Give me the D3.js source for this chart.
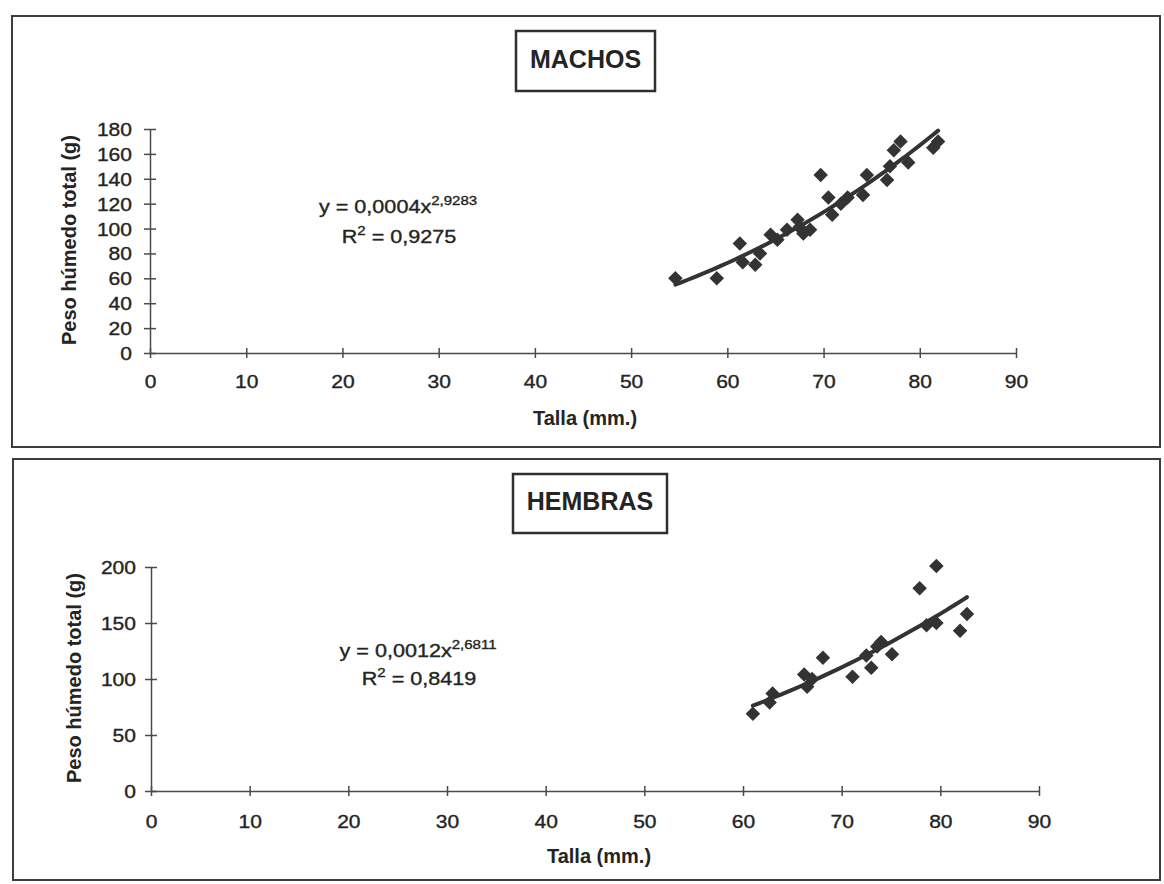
<!DOCTYPE html>
<html><head><meta charset="utf-8">
<script src="https://cdn.jsdelivr.net/npm/d3@7"></script>
<style>
body{margin:0;background:#fff}
text{font-family:"Liberation Sans",Arial,sans-serif;fill:#242424}
.reg{stroke:#242424;stroke-width:0.35px}
</style>
</head><body>
<svg id="c" width="1164" height="884"></svg>
<script>
// ---------------- data ----------------
const xTicks = [0, 10, 20, 30, 40, 50, 60, 70, 80, 90];
const machosYTicks = [0, 20, 40, 60, 80, 100, 120, 140, 160, 180];
const hembrasYTicks = [0, 50, 100, 150, 200];

const machosTalla = [54.6, 58.9, 61.3, 61.6, 62.9, 63.4, 64.5, 65.2, 66.2, 67.3, 67.5, 67.9, 68.6, 69.7, 70.5, 70.9, 71.8, 72.5, 74.1, 74.5, 76.6, 76.9, 77.3, 78.0, 78.8, 81.4, 81.9];
const machosPeso  = [60, 60, 88, 73, 71, 80, 95, 91, 99, 107, 101, 96, 99, 143, 125, 111, 120, 125, 127, 143, 139, 150, 163, 170, 153, 165, 170];

const hembrasTalla = [61.0, 62.7, 63.0, 66.2, 66.5, 67.0, 68.1, 71.1, 72.5, 73.0, 73.6, 74.0, 75.1, 77.9, 78.6, 79.6, 79.6, 82.0, 82.7];
const hembrasPeso  = [69, 79, 87, 104, 93, 100, 119, 102, 121, 110, 129, 133, 122, 181, 148, 150, 201, 143, 158];

const titles = ["MACHOS", "HEMBRAS"];
const eqCoef = ["y = 0,0004x", "y = 0,0012x"];
const eqExp = ["2,9283", "2,6811"];
const r2Val = [" = 0,9275", " = 0,8419"];
const yLabel = "Peso húmedo total (g)";
const xLabel = "Talla (mm.)";

// ---------------- helpers ----------------
const svg = d3.select("#c");
const INK = "#333";

function stext(g, x, y, sx, str, size, weight, anchor) {
  return g.append("text")
    .attr("transform", `translate(${x},${y}) scale(${sx},1)`)
    .attr("text-anchor", anchor || "middle")
    .attr("font-size", size)
    .attr("font-weight", weight || "normal")
    .text(str);
}

function powerFit(xs, ys) {
  const n = xs.length;
  const lx = xs.map(Math.log), ly = ys.map(Math.log);
  const sx = d3.sum(lx), sy = d3.sum(ly);
  const sxy = d3.sum(lx.map((v, i) => v * ly[i]));
  const sxx = d3.sum(lx.map(v => v * v));
  const b = (n * sxy - sx * sy) / (n * sxx - sx * sx);
  const a = (sy - b * sx) / n;
  return x => Math.exp(a) * Math.pow(x, b);
}

function panel(cfg) {
  const g = svg.append("g");
  // frame
  g.append("rect").attr("x", cfg.frame[0]).attr("y", cfg.frame[1])
    .attr("width", cfg.frame[2] - cfg.frame[0]).attr("height", cfg.frame[3] - cfg.frame[1])
    .attr("fill", "none").attr("stroke", "#3d3d3d").attr("stroke-width", 2);

  // title box
  const tb = cfg.titleBox;
  g.append("rect").attr("x", tb[0]).attr("y", tb[1]).attr("width", tb[2] - tb[0]).attr("height", tb[3] - tb[1])
    .attr("fill", "#fff").attr("stroke", "#2f2f2f").attr("stroke-width", 2.5);
  stext(g, (tb[0] + tb[2]) / 2, cfg.titleBase, 1, cfg.title, 25, "bold");

  const x = d3.scaleLinear().domain([0, 90]).range([cfg.x0, cfg.x1]);
  const y = d3.scaleLinear().domain([0, cfg.yMax]).range([cfg.y0, cfg.y1]);

  const SX = 1.17;
  // x axis
  const xa = g.append("g").attr("transform", `translate(0,${cfg.y0})`)
    .call(d3.axisBottom(x).tickValues(xTicks).tickSizeOuter(0).tickSizeInner(6).tickPadding(cfg.xPad).tickFormat(d3.format("d")));
  xa.selectAll(".tick line").attr("y1", -5).attr("y2", 5);
  xa.selectAll(".tick text").attr("font-size", 18).attr("fill", "#242424").attr("class", "reg")
    .attr("transform", `scale(${SX},1)`);
  // y axis
  const ya = g.append("g").attr("transform", `translate(${cfg.x0},0)`)
    .call(d3.axisLeft(y).tickValues(cfg.yTicks).tickSizeOuter(0).tickSizeInner(6).tickPadding(cfg.yPad).tickFormat(d3.format("d")));
  ya.selectAll(".tick line").attr("x1", -6).attr("x2", 6);
  ya.selectAll(".tick text").attr("font-size", 18).attr("fill", "#242424").attr("class", "reg")
    .attr("dy", "0.36em")
    .attr("x", -(6 + cfg.yPad) / SX)
    .attr("transform", `scale(${SX},1)`);
  [xa, ya].forEach(a => {
    a.selectAll("path,line").attr("stroke", "#4a4a4a").attr("stroke-width", 1.5);
    a.attr("font-family", null);
  });

  // axis labels
  stext(g, cfg.xLabelPos[0], cfg.xLabelPos[1], 1, xLabel, 20, "bold");
  g.append("text")
    .attr("transform", `translate(${cfg.yLabelPos[0]},${cfg.yLabelPos[1]}) rotate(-90)`)
    .attr("text-anchor", "middle").attr("font-size", 20).attr("font-weight", "bold")
    .text(yLabel);

  // trend line
  const f = powerFit(cfg.tx, cfg.ty);
  const ext = d3.extent(cfg.tx);
  const xsLine = d3.range(0, 41).map(i => ext[0] + (ext[1] - ext[0]) * i / 40);
  g.append("path")
    .attr("d", d3.line().x(d => x(d)).y(d => y(f(d))).curve(d3.curveMonotoneX)(xsLine))
    .attr("fill", "none").attr("stroke", "#333").attr("stroke-width", 4).attr("stroke-linecap", "round");

  // markers
  const sym = d3.symbol(d3.symbolSquare, 105);
  g.selectAll("path.pt").data(cfg.tx.map((v, i) => [v, cfg.ty[i]])).join("path")
    .attr("class", "pt")
    .attr("d", sym)
    .attr("transform", d => `translate(${x(d[0])},${y(d[1])}) rotate(45)`)
    .attr("fill", INK);

  // equation
  const eq = g.append("text").attr("text-anchor", "middle").attr("font-size", 18).attr("class", "reg")
    .attr("transform", `translate(${cfg.eqPos[0]},${cfg.eqPos[1]}) scale(1.2,1)`);
  eq.append("tspan").text(cfg.eqCoef);
  eq.append("tspan").attr("font-size", 12.5).attr("dy", -8).text(cfg.eqExp);
  const r2 = g.append("text").attr("text-anchor", "middle").attr("font-size", 18).attr("class", "reg")
    .attr("transform", `translate(${cfg.r2Pos[0]},${cfg.r2Pos[1]}) scale(1.2,1)`);
  r2.append("tspan").text("R");
  r2.append("tspan").attr("font-size", 12.5).attr("dy", -8).text("2");
  r2.append("tspan").attr("dy", 8).text(cfg.r2);
}

panel({
  frame: [12, 16, 1160, 447], titleBox: [516, 31, 655, 91], titleBase: 68, title: titles[0],
  x0: 150, x1: 1016, y0: 353, y1: 129, yMax: 180, yTicks: machosYTicks,
  xPad: 16, yPad: 12,
  xLabelPos: [585, 425], yLabelPos: [76, 240],
  tx: machosTalla, ty: machosPeso,
  eqPos: [398, 213], r2Pos: [399, 243], eqCoef: eqCoef[0], eqExp: eqExp[0], r2: r2Val[0]
});
panel({
  frame: [13, 459, 1160, 880], titleBox: [513, 474, 667, 533], titleBase: 510, title: titles[1],
  x0: 151, x1: 1039, y0: 791, y1: 567, yMax: 200, yTicks: hembrasYTicks,
  xPad: 18, yPad: 9,
  xLabelPos: [599, 863], yLabelPos: [81, 678],
  tx: hembrasTalla, ty: hembrasPeso,
  eqPos: [418, 657], r2Pos: [419, 685], eqCoef: eqCoef[1], eqExp: eqExp[1], r2: r2Val[1]
});
</script>
</body></html>
